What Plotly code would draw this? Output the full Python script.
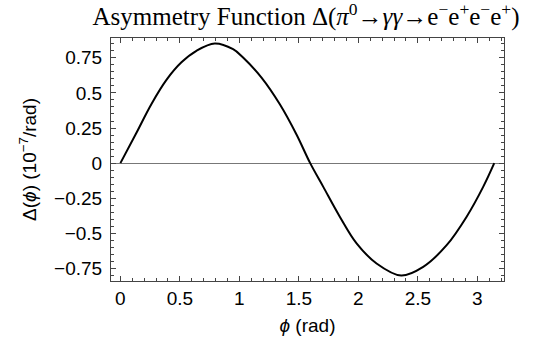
import plotly.graph_objects as go

phi = [0.0, 0.134, 0.26, 0.387, 0.513, 0.639, 0.793, 0.947, 1.031, 1.186, 1.34, 1.48,
       1.595, 1.704, 1.844, 1.985, 2.153, 2.36, 2.545, 2.742, 2.91, 3.05, 3.142]
delta = [0.0, 0.215, 0.42, 0.593, 0.718, 0.80, 0.852, 0.811, 0.752, 0.609, 0.419, 0.204,
         0.0, -0.167, -0.381, -0.571, -0.714, -0.80, -0.738, -0.584, -0.381, -0.167, 0.0]

x_ticks = [0, 0.5, 1, 1.5, 2, 2.5, 3]
x_labels = ["0", "0.5", "1", "1.5", "2", "2.5", "3"]
y_ticks = [-0.75, -0.5, -0.25, 0, 0.25, 0.5, 0.75]
y_labels = ["\u22120.75", "\u22120.5", "\u22120.25", "0", "0.25", "0.5", "0.75"]

fig = go.Figure()
fig.add_trace(go.Scatter(x=phi, y=delta, mode="lines",
                         line=dict(color="black", width=2, shape="spline", smoothing=1.0),
                         showlegend=False, hoverinfo="skip"))

fig.update_layout(
    width=543, height=343,
    margin=dict(l=111, r=39, t=38, b=62),
    paper_bgcolor="white", plot_bgcolor="white",
    title=dict(text="Asymmetry Function \u0394(<i>\u03c0</i><sup>0</sup>\u2192<i>\u03b3\u03b3</i>\u2192e<sup>\u2212</sup>e<sup>+</sup>e<sup>\u2212</sup>e<sup>+</sup>)",
               x=306/543, xanchor="center", y=0.978, yanchor="top",
               font=dict(family="Liberation Serif", size=25, color="black")),
    font=dict(family="Liberation Sans", color="black"),
)

fig.update_xaxes(range=[-0.079, 3.224], tickvals=x_ticks, ticktext=x_labels,
                 tickfont=dict(size=19, family="Liberation Sans"),
                 ticks="inside", ticklen=5, tickcolor="#444", tickwidth=1,
                 minor=dict(dtick=0.1, tick0=0, ticks="inside", ticklen=3, tickcolor="#444"),
                 showline=True, linecolor="#444", linewidth=1, mirror="allticks",
                 showgrid=False, zeroline=False,
                 title=dict(text="<i>\u03d5</i> (rad)", font=dict(size=19, family="Liberation Sans"), standoff=10))

fig.update_yaxes(range=[-0.839, 0.891], tickvals=y_ticks, ticktext=y_labels,
                 tickfont=dict(size=19, family="Liberation Sans"), ticklabelstandoff=4,
                 ticks="inside", ticklen=5, tickcolor="#444", tickwidth=1,
                 minor=dict(dtick=0.05, tick0=0, ticks="inside", ticklen=3, tickcolor="#444"),
                 showline=True, linecolor="#444", linewidth=1, mirror="allticks",
                 showgrid=False, zeroline=True, zerolinecolor="#777", zerolinewidth=1,
                 title=dict(text="\u0394(<i>\u03d5</i>) (10<sup>\u22127</sup>/rad)", font=dict(size=19, family="Liberation Sans"), standoff=12))

fig.write_html("out.html", config={"displayModeBar": False},
               post_script="document.body.style.margin='0';")
